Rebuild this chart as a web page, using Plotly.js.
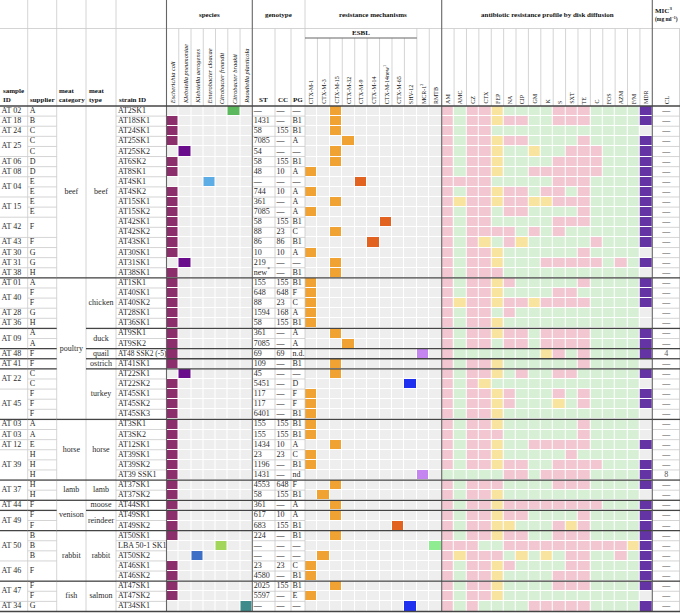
<!DOCTYPE html>
<html><head><meta charset="utf-8">
<script src="https://cdn.plot.ly/plotly-3.0.1.min.js"></script>
<style>html,body{margin:0;padding:0;background:#fff;}#chart{width:680px;height:613px;}</style>
</head><body><div id="chart"></div>
<script>
// ================= DATA =================
const sampleIDs = ["AT 02","AT 18","AT 24","AT 25","AT 06","AT 08","AT 04","AT 15","AT 42","AT 43","AT 30","AT 31","AT 38",
  "AT 01","AT 40","AT 28","AT 36","AT 09","AT 48","AT 41","AT 22","AT 45",
  "AT 03","AT 03","AT 12","AT 39","AT 37","AT 44","AT 49","AT 50","AT 46","AT 47","AT 34"];
const sampleRowSpans = [1,1,1,2,1,1,2,2,2,1,1,1,1, 1,2,1,1,2,1,1,2,3, 1,1,1,3,2,1,2,3,2,2,1];
const suppliers = ["A","B","C","C","C","D","D","E","E","E","E","F","F","G","G","H",
  "A","F","F","G","H","A","A","F","F","C","C","F","F","F",
  "A","A","E","H","H","H","H","H","F","F","F","B","B","B","F","F","F","G"];
const supplierRowSpans = [1,1,1,1,1,1,1,1,1,1,1,2,1,1,1,1, 1,1,1,1,1,1,1,1,1,1,1,1,1,1, 1,1,1,1,1,1,1,1,1,1,1,1,1,1,2,1,1,1];
const meatCategories = ["beef","poultry","horse","lamb","venison","rabbit","fish"];
const meatCategorySpans = [17,14,6,2,3,5,3];
const meatTypes = ["beef","chicken","duck","quail","ostrich","turkey","horse","lamb","moose","reindeer","rabbit","salmon"];
const meatTypeSpans = [17,5,2,1,1,5,6,2,1,2,5,3];
const strainIDs = ["AT2SK1","AT18SK1","AT24SK1","AT25SK1","AT25SK2","AT6SK2","AT8SK1","AT4SK1","AT4SK2","AT15SK1","AT15SK2",
  "AT42SK1","AT42SK2","AT43SK1","AT30SK1","AT31SK1","AT38SK1","AT1SK1","AT40SK1","AT40SK2","AT28SK1","AT36SK1",
  "AT9SK1","AT9SK2","AT48 SSK2 (-5)","AT41SK1","AT22SK1","AT22SK2","AT45SK1","AT45SK2","AT45SK3","AT3SK1","AT3SK2",
  "AT12SK1","AT39SK1","AT39SK2","AT39 SSK1","AT37SK1","AT37SK2","AT44SK1","AT49SK1","AT49SK2","AT50SK1",
  "LBA 50-1 SK1","AT50SK2","AT46SK1","AT46SK2","AT47SK1","AT47SK2","AT34SK1"];
const sequenceTypes = ["—","1431","58","7085","54","58","48","—","744","361","7085","58","88","86","10","219","new<sup>*</sup>",
  "155","648","88","1594","58","361","7085","69","109","45","5451","117","117","6401","155","155","1434","23","1196","1431",
  "4553","58","361","617","683","224","—","—","23","4580","2025","5597","—"];
const clonalComplexes = ["—","—","155","—","—","155","10","—","10","—","—","155","23","86","10","—","—",
  "155","648","23","168","155","—","—","69","—","—","—","—","—","—","155","155","10","23","—","—",
  "648","155","—","10","155","—","—","—","23","—","155","—","—"];
const phylogroups = ["—","B1","B1","A","—","B1","A","—","A","A","A","B1","C","B1","A","—","B1",
  "B1","F","C","A","B1","A","A","n.d.","B1","—","D","F","F","B1","B1","B1","A","C","B1","nd",
  "F","B1","A","A","B1","B1","—","—","C","B1","B1","E","—"];
const speciesNames = ["Escherichia coli","Klebsiella pneumoniae","Klebsiella aerogenes","Enterobacter cloacae",
  "Citrobacter freundii","Citrobacter braakii","Raoultella planticola"];
const speciesCodes = ["Ec","Kp","Ka","Ecl","Cf","Cb","Rp"];
const strainSpecies = ["Cb","Ec","Ec","Ec","Kp","Ec","Ec","Ecl","Ec","Ec","Ec","Ec","Ec","Ec","Ec","Kp","Ec",
  "Ec","Ec","Ec","Ec","Ec","Ec","Ec","Ec","Ec","Kp","Ec","Ec","Ec","Ec","Ec","Ec","Ec","Ec","Ec","Ec",
  "Ec","Ec","Ec","Ec","Ec","Ec","Cf","Ka","Ec","Ec","Ec","Ec","Rp"];
const mechanismNames = ["CTX-M-1","CTX-M-3","CTX-M-15","CTX-M-32","CTX-M-9","CTX-M-14","CTX-M-14new","CTX-M-65","SHV-12","MCR-1","RMTB"];
const mechanismLabels = ["CTX-M-1","CTX-M-3","CTX-M-15","CTX-M-32","CTX-M-9","CTX-M-14","CTX-M-14new<sup>1</sup>","CTX-M-65","SHV-12","MCR-1<sup>2</sup>","RMTB"];
const strainMechanism = ["CTX-M-15","CTX-M-15","CTX-M-15","CTX-M-32","CTX-M-15","CTX-M-15","CTX-M-1","CTX-M-9","CTX-M-1","CTX-M-15",
  "CTX-M-1","CTX-M-14new","CTX-M-15","CTX-M-14","CTX-M-1","CTX-M-15","CTX-M-15","CTX-M-1","CTX-M-1","CTX-M-1",
  "CTX-M-1","CTX-M-1","CTX-M-15","CTX-M-32","MCR-1","CTX-M-15","CTX-M-15","SHV-12","CTX-M-1","CTX-M-1",
  "CTX-M-1","CTX-M-1","CTX-M-1","CTX-M-15","CTX-M-1","CTX-M-1","MCR-1","CTX-M-15","CTX-M-3","CTX-M-15",
  "CTX-M-15","CTX-M-65","CTX-M-15","RMTB","CTX-M-3","CTX-M-1","CTX-M-1","CTX-M-15","CTX-M-1","SHV-12"];
const antibiotics = ["AM","AMC","CZ","CTX","FEP","NA","CIP","GM","K","S","SXT","TE","C","FOS","AZM","F/M"];
// R = resistant, I = intermediate, S = susceptible (one letter per antibiotic, same order as above)
const diskProfiles = [
  "RSRRISSSSRRRSSSS","RSRRIRRSSRRRSSSS","RSRRSSSSSSSSSSSS","RSRRIRRSSSSRSSSS","RSRRISSISSRRRSSS",
  "RSRRISSSSRRRRSSS","RSRRISSRRRRRRSSS","RRRRSSSSSRRRSSSS","RSRRIRRSRRSRSSSS","RIRRIRRIIRRRSSSS",
  "RSRRSRRSSSSRSSSS","RSRRSSSSSRRRSSSS","RSRRRRSRSRSSSSSS","RSRISRISSSSSRSSS","RSRRISSSSSSRSSSS",
  "RSRRISSSRRRRRSRS","RSRRRSSSSSSSSSSS","RSRRIRSSSSSRSSSS","RSRRISSSSRRSSSSS","RIRRIRRIRRRRSSSS",
  "RSRRSRSSSSSSSSSS","RSRRISSSSSSSSSSS","RSRRIRRSRRRRSSSS","RSRRSRRSRRRRSSSS","RSSSSSSSIRSRSSSS",
  "RSRRISSSSSSRSSSS","RSRRISRSSRRSSSSS","RSRISSSSSSSSSSSS","RSRRIRSSSRSRSSSS","RSRRIRSSSISRSSSS",
  "RSRRISSSSSSSSSSS","RSRRISSSSSSRSSSS","RSRRRSSSSSSRSSSS","RSRRISSRRRRRSSSS","RSRRISSSSSRSSSSS",
  "RSRRIRRSSRRRRSSS","SSSSSRRSRRRRSSSS","RSRRRSSSSRRRSSSS","RSRRISSSSSSSSSSS","RSRRIRRRRRRRRSSS",
  "RSRRIRRSSSSRSSSS","RSRRIISSSRIRSSSS","RSRRIRRSSRRRSSSS","RRRSSRRRRRRRRRRI","RIRRRSISISRRSSRS",
  "RSRRIRSSSSRRSSSS","RSRRISSSSRRRSSSS","RSRRISSSSRRRSSSS","RSRRISSSSSSSSSSS","RSRSSSSRRRRRSSSS"];
const multiDrugResistant = [1,1,0,1,1,1,1,1,1,1,1,1,1,1,0,1,0,1,1,1,0,0,1,1,1,0,1,0,1,1,0,0,0,1,0,1,1,1,0,1,1,1,1,1,1,1,1,1,0,1];
const colistinMIC = ["—","—","—","—","—","—","—","—","—","—","—","—","—","—","—","—","—","—","—","—","—","—","—","—","4",
  "—","—","—","—","—","—","—","—","—","—","—","8","—","—","—","—","—","—","—","—","—","—","—","—","—"];

// ================= STYLE / LAYOUT =================
const FONT = "Liberation Serif";
const TXT = "#2a2a2a";
const nRows = strainIDs.length;
const rowTop = 106, rowBottom = 611.5, rh = (rowBottom - rowTop) / nRows;
const X = {sample:0, supplier:27.7, category:56.7, type:86, strain:116, sp0:166.5, sp1:252.3, cc:275, pg:291,
           m0:305, m1:441.7, a1:652.3, right:680};
const esblEnd = X.m0 + (X.m1 - X.m0) * 9 / 11;
const speciesColors = ["#8b2e6b","#6a0d8c","#3e6fc6","#5cade6","#a2d65a","#5cb85c","#3f8b8b"];
const mechColors = ["#f0a233","#f0a233","#f0a233","#f0a233","#e2621f","#e2621f","#e2621f","#e2621f","#1f31ee","#c485f0","#90ec90"];
const EMPTY = "#eeeeee";
const abxColors = ["#d7efd4","#f8e49e","#f2c7d1",EMPTY,"#6434a4"]; // S, I, R, MDR no, MDR yes

const yEdges = Array.from({length:nRows+1}, (_,i) => rowTop + i*rh);
const yMid = yEdges.slice(0,-1).map(y => y + rh/2);
const edges = (a,b,n) => Array.from({length:n+1}, (_,i) => a + (b-a)*i/n);
function stepScale(colors){ const n=colors.length, s=[]; colors.forEach((c,i)=>{s.push([i/n,c]); s.push([(i+1)/n,c]);}); return s; }
function heat(xe, z, colors){
  return {type:'heatmap', x:xe, y:yEdges, z, zmin:-0.5, zmax:colors.length-0.5, colorscale:stepScale(colors),
          showscale:false, xgap:1, ygap:1, hoverinfo:'skip'};
}
const spX = edges(X.sp0, X.sp1, speciesNames.length);
const mX = edges(X.m0, X.m1, mechanismNames.length);
const aX = edges(X.m1, X.a1, antibiotics.length + 1);

const traces = [];
traces.push(heat(spX, strainSpecies.map(c => speciesCodes.map((k,j) => k===c ? j+1 : 0)), [EMPTY].concat(speciesColors)));
traces.push(heat(mX, strainMechanism.map(m => mechanismNames.map((k,j) => k===m ? j+1 : 0)), [EMPTY].concat(mechColors)));
const code = {S:0, I:1, R:2};
traces.push(heat(aX, diskProfiles.map((p,r) => p.split('').map(ch => code[ch]).concat([multiDrugResistant[r] ? 4 : 3])), abxColors));

// ---- grid lines ----
function cumBounds(spans){ const s=new Set(); let c=0; spans.forEach(n=>{c+=n; s.add(c);}); return s; }
const typeB = cumBounds(meatTypeSpans), catB = cumBounds(meatCategorySpans),
      sampB = cumBounds(sampleRowSpans), supB = cumBounds(supplierRowSpans);
const light = [], dark = [], mid = [];
for (let k=1; k<nRows; k++){
  const y = yEdges[k], d = typeB.has(k);
  const put = (x0,x1,isDark,isLight) => { if (isDark) dark.push([x0,y,x1,y]); else if (isLight) light.push([x0,y,x1,y]); };
  put(X.sample, X.supplier, d, sampB.has(k));
  put(X.supplier, X.category, d, supB.has(k));
  put(X.category, X.type, catB.has(k), false);
  put(X.type, X.strain, d, false);
  put(X.strain, X.sp0, d, true);
  put(X.sp0, X.sp1, d, false);
  put(X.sp1, X.m0, d, true);
  put(X.m0, X.a1, d, false);
  put(X.a1, X.right, d, true);
}
dark.push([0,rowTop,X.right,rowTop]);
dark.push([0,rowBottom,X.right,rowBottom]);
[X.supplier, X.category, X.type, X.strain].forEach(x => light.push([x,0,x,rowBottom]));
[X.cc, X.pg].forEach(x => light.push([x,28.5,x,rowBottom]));
light.push([X.m0,0,X.m0,rowBottom]);
light.push([X.right-0.5,28.5,X.right-0.5,rowBottom]);
spX.slice(1,-1).forEach(x => light.push([x,28.5,x,rowTop]));
mX.slice(1,-1).forEach((x,i) => light.push([x, i<8 ? 38 : 28.5, x, rowTop]));
aX.slice(1,-1).forEach(x => light.push([x,28.5,x,rowTop]));
light.push([0,28.5,X.right,28.5]);
[X.sp0, X.m1, X.a1].forEach(x => mid.push([x,0,x,rowBottom]));
mid.push([X.sp1,0,X.sp1,rowBottom]);
mid.push([X.m0,38,esblEnd,38]);
function segTrace(segs, color, width){
  const x=[], y=[];
  segs.forEach(([x0,y0,x1,y1]) => { x.push(x0,x1,null); y.push(y0,y1,null); });
  return {type:'scatter', mode:'lines', x, y, line:{color, width}, hoverinfo:'skip', cliponaxis:false};
}
traces.push(segTrace(light, "#c9c9c9", 0.8));
traces.push(segTrace(mid, "#666666", 1.1));
traces.push(segTrace(dark, "#444444", 1.3));

// ---- body text ----
function textTrace(xs, ys, texts, pos, size, color){
  return {type:'scatter', mode:'text', x:xs, y:ys, text:texts, textposition:pos,
          textfont:{family:FONT, size:size||8, color:color||TXT}, hoverinfo:'skip', cliponaxis:false};
}
function spanMids(spans){ let s=0; return spans.map(n => { const m = rowTop + (s + n/2)*rh; s += n; return m; }); }
const fill = (v) => yMid.map(() => v);
traces.push(textTrace(sampleIDs.map(() => X.sample + 1.5), spanMids(sampleRowSpans), sampleIDs, 'middle right'));
traces.push(textTrace(suppliers.map(() => X.supplier + 2), spanMids(supplierRowSpans), suppliers, 'middle right'));
traces.push(textTrace(meatCategories.map(() => (X.category + X.type)/2), spanMids(meatCategorySpans), meatCategories, 'middle center'));
traces.push(textTrace(meatTypes.map(() => (X.type + X.strain)/2), spanMids(meatTypeSpans), meatTypes, 'middle center'));
traces.push(textTrace(fill(X.strain + 2), yMid, strainIDs, 'middle right', strainIDs.map(s => s.length > 12 ? 7.4 : 8)));
traces.push(textTrace(fill(X.sp1 + 1.5), yMid, sequenceTypes, 'middle right'));
traces.push(textTrace(fill(X.cc + 1.5), yMid, clonalComplexes, 'middle right'));
traces.push(textTrace(fill(X.pg + 1.5), yMid, phylogroups, 'middle right'));
traces.push(textTrace(fill((X.a1 + X.right)/2), yMid, colistinMIC, 'middle center', 8, "#555"));

// ---- header annotations ----
const ann = [];
function A(text, x, y, o){
  ann.push(Object.assign({text, x, y, xref:'x', yref:'y', showarrow:false, borderpad:0,
    font:{family:FONT, size:7, color:'#111'}}, o || {}));
}
const HB = 105;
const rot = (text, x, size) => A(text, x, HB, {textangle:-90, xanchor:'center', yanchor:'bottom', font:{family:FONT, size:size||6, color:'#111'}});
speciesNames.forEach((n,i) => rot('<i>'+n+'</i>', (spX[i]+spX[i+1])/2, 6.4));
mechanismLabels.forEach((n,i) => rot(n, (mX[i]+mX[i+1])/2, 6));
antibiotics.concat(["MDR"]).forEach((n,i) => rot(n, (aX[i]+aX[i+1])/2, 6));
rot("CL", (X.a1 + X.right)/2, 6.5);
const bold = {family:FONT, size:7, color:'#111', weight:'bold'};
A("sample<br>ID", X.sample+1.5, HB, {xanchor:'left', yanchor:'bottom', align:'left', font:bold});
A("supplier", X.supplier+1.5, HB, {xanchor:'left', yanchor:'bottom', font:bold});
A("meat<br>category", X.category+1.5, HB, {xanchor:'left', yanchor:'bottom', align:'left', font:bold});
A("meat<br>type", X.type+1.5, HB, {xanchor:'left', yanchor:'bottom', align:'left', font:bold});
A("strain ID", X.strain+2, HB, {xanchor:'left', yanchor:'bottom', font:bold});
A("ST", (X.sp1+X.cc)/2, HB, {xanchor:'center', yanchor:'bottom', font:bold});
A("CC", (X.cc+X.pg)/2, HB, {xanchor:'center', yanchor:'bottom', font:bold});
A("PG", (X.pg+X.m0)/2, HB, {xanchor:'center', yanchor:'bottom', font:bold});
A("species", (X.sp0+X.sp1)/2, 15, {font:bold});
A("genotype", (X.sp1+X.m0)/2, 15, {font:bold});
A("resistance mechanisms", (X.m0+X.m1)/2, 15, {font:bold});
A("antibiotic resistance profile by disk diffusion", (X.m1+X.a1)/2, 15, {font:bold});
A("ESBL", (X.m0+esblEnd)/2, 33, {font:bold});
A("MIC<sup>3</sup>", X.a1+2, 10, {xanchor:'left', font:bold});
A("(mg ml<sup>−1</sup>)", X.a1+2, 19, {xanchor:'left', font:{family:FONT, size:5.5, color:'#111', weight:'bold'}});

const layout = {
  width:680, height:613, margin:{l:0,r:0,t:0,b:0}, paper_bgcolor:'#fff', plot_bgcolor:'#fff',
  showlegend:false,
  xaxis:{range:[0,680], visible:false, fixedrange:true},
  yaxis:{range:[613,0], visible:false, fixedrange:true},
  annotations:ann
};
Plotly.newPlot('chart', traces, layout, {staticPlot:true, displayModeBar:false});
</script></body></html>
